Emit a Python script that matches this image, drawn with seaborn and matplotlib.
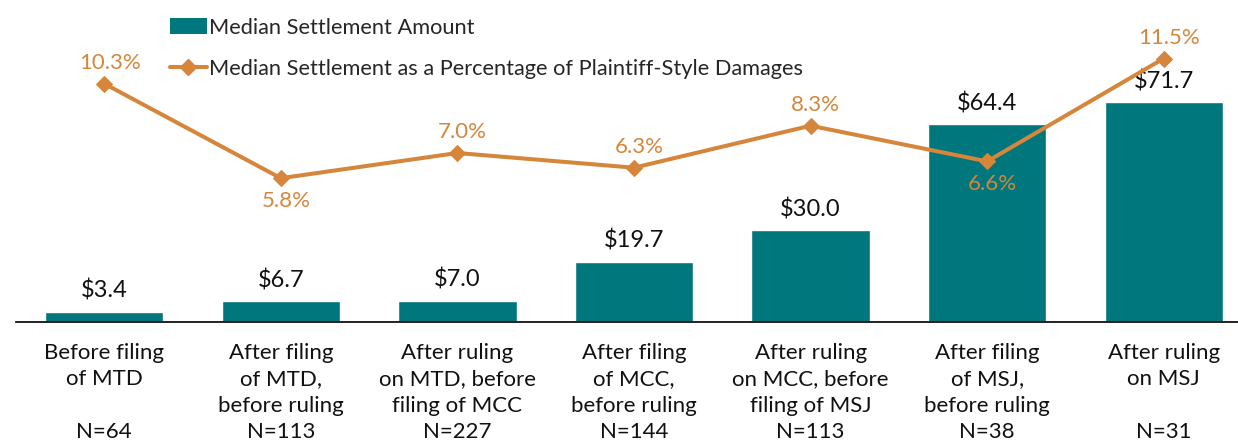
import numpy as np
import pandas as pd
import seaborn as sns
import matplotlib.pyplot as plt
from matplotlib.patches import Patch
from matplotlib.lines import Line2D

stages = ["Before filing\nof MTD\n\nN=64",
          "After filing\nof MTD,\nbefore ruling\nN=113",
          "After ruling\non MTD, before\nfiling of MCC\nN=227",
          "After filing\nof MCC,\nbefore ruling\nN=144",
          "After ruling\non MCC, before\nfiling of MSJ\nN=113",
          "After filing\nof MSJ,\nbefore ruling\nN=38",
          "After ruling\non MSJ\n\nN=31"]
amount = [3.4, 6.7, 7.0, 19.7, 30.0, 64.4, 71.7]
pct = [10.3, 5.8, 7.0, 6.3, 8.3, 6.6, 11.5]
pct_below = [False, True, False, False, False, True, False]

teal = "#00777D"
orange = "#D5863A"

sns.set_style("white")
plt.rcParams['font.family'] = ['Lato', 'DejaVu Sans']

fig = plt.figure(figsize=(12.38, 4.41), dpi=100)
# axis runs from x=16px to ~1252px, baseline at y=322px
ax = fig.add_axes([16/1238, 119/441, 1236/1238, 322/441])

df = pd.DataFrame({"stage": stages, "amount": amount})
sns.barplot(data=df, x="stage", y="amount", color=teal, saturation=1,
            width=0.67, ax=ax)
ax.set_xlim(-0.5, 6.5)
ax.set_ylim(0, 322/3.07)
for i, v in enumerate(amount):
    ax.text(i, v + 3.2, "${:.1f}".format(v), ha="center", va="bottom",
            fontsize=17, color="#111111")

ax.set_xlabel(""); ax.set_ylabel("")
ax.set_yticks([])
for s in ["top", "left", "right"]:
    ax.spines[s].set_visible(False)
ax.spines["bottom"].set_color("#111111")
ax.spines["bottom"].set_linewidth(1.3)
ax.tick_params(axis="x", which="major", length=0, pad=15, labelsize=16,
               labelcolor="#111111")
ax.set_xticks(np.arange(-0.5, 7, 1), minor=True)
ax.tick_params(axis="x", which="minor", length=7, width=1, color="#555555",
               direction="out")
for lab in ax.get_xticklabels():
    lab.set_linespacing(1.4)
    lab.set_va("top")

ax2 = ax.twinx()
sns.lineplot(x=np.arange(len(pct)), y=pct, color=orange, linewidth=2.9,
             marker="D", markersize=8, markeredgecolor=orange, ax=ax2)
ax2.set_ylim(-22/21, 300/21)
ax2.set_yticks([])
ax2.set_xlim(-0.5, 6.5)
for s in ax2.spines.values():
    s.set_visible(False)
for i, (v, below) in enumerate(zip(pct, pct_below)):
    off = -1.1 if below else 1.0
    ax2.text(i + 0.03, v + off, "{:.1f}%".format(v), ha="center", va="center",
             fontsize=16, color=orange)

handles = [Patch(facecolor=teal, edgecolor="none"),
           Line2D([0], [0], color=orange, linewidth=2.9, marker="D",
                  markersize=8)]
labels = ["Median Settlement Amount",
          "Median Settlement as a Percentage of Plaintiff-Style Damages"]
fig.legend(handles, labels, loc="upper left",
           bbox_to_anchor=(161/1238, 1 - 9/441), frameon=False, fontsize=15.7,
           handlelength=1.7, handletextpad=0.12, labelspacing=0.98,
           borderaxespad=0)

fig.savefig("out.png", dpi=100)
